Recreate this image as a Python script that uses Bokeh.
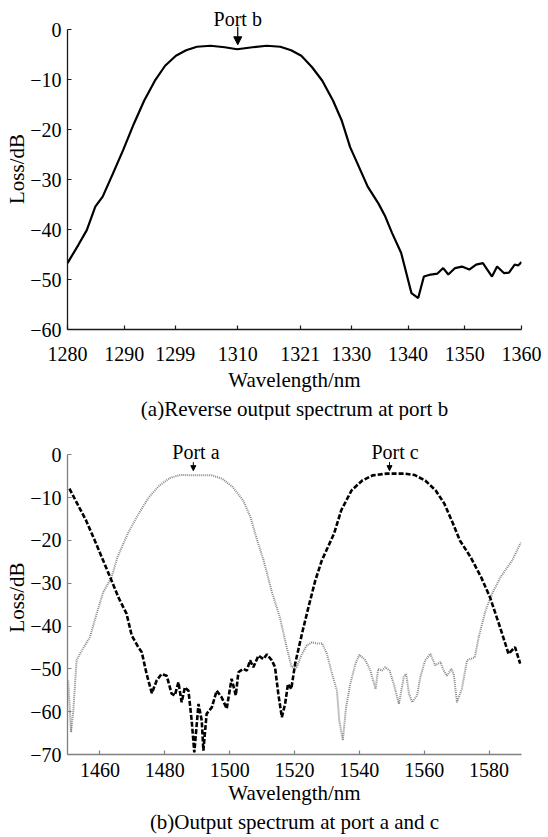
from bokeh.plotting import figure
from bokeh.models import FixedTicker, Range1d, Label, Arrow, NormalHead, Title
from bokeh.layouts import column
from bokeh.embed import file_html
from bokeh.resources import INLINE

SERIF = "Liberation Serif"

# ---------------- Panel (a): reverse output spectrum at port b ----------------
wl_a = [1280.0, 1281.9, 1283.4, 1284.9, 1286.2, 1288.0, 1289.8, 1291.7, 1293.5, 1295.4,
        1297.2, 1299.1, 1300.9, 1302.8, 1305.2, 1307.7, 1309.9, 1312.6, 1315.1, 1317.5,
        1319.4, 1321.2, 1323.1, 1324.9, 1326.8, 1328.3, 1329.8, 1331.1, 1332.9, 1334.8,
        1336.0, 1337.2, 1338.8, 1339.7, 1340.6, 1341.8, 1342.8, 1344.0, 1345.2, 1346.2,
        1347.1, 1348.3, 1349.5, 1350.8, 1352.0, 1353.2, 1354.8, 1355.7, 1356.9, 1357.8,
        1358.8, 1359.4, 1360.0]
loss_a = [-46.7, -43.1, -40.1, -35.4, -33.4, -28.8, -24.1, -18.8, -14.2, -10.2,
          -7.2, -5.2, -4.1, -3.4, -3.2, -3.5, -3.9, -3.5, -3.2, -3.4,
          -4.1, -5.2, -7.5, -10.2, -14.2, -18.1, -23.5, -26.8, -31.4, -34.8,
          -37.4, -40.7, -44.7, -48.7, -52.7, -53.7, -49.4, -49.0, -48.8, -47.7,
          -49.0, -47.7, -47.4, -48.0, -47.0, -46.7, -49.4, -47.4, -48.7, -48.6,
          -47.0, -47.2, -46.5]
xticks_a = [1280, 1290, 1299, 1310, 1321, 1330, 1340, 1350, 1360]
yticks_a = [0, -10, -20, -30, -40, -50, -60]

# ---------------- Panel (b): output spectrum at port a and c ----------------
wl_c = [1450.6, 1453.0, 1455.7, 1458.4, 1461.0, 1463.6, 1465.7, 1468.2, 1469.8, 1471.8,
        1472.9, 1474.4, 1476.0, 1477.5, 1479.0, 1480.6, 1482.1, 1483.1, 1484.2, 1485.2,
        1486.2, 1487.3, 1488.3, 1489.1, 1490.4, 1491.4, 1491.9, 1492.9, 1494.5, 1496.0,
        1497.5, 1499.1, 1500.6, 1501.9, 1502.7, 1504.2, 1505.3, 1506.3, 1507.3, 1508.9,
        1510.4, 1511.5, 1513.0, 1514.0, 1515.0, 1516.1, 1517.1, 1518.0, 1519.0, 1520.2,
        1522.3, 1524.3, 1526.4, 1528.4, 1532.2, 1534.4, 1537.6, 1540.9, 1544.1, 1548.4,
        1553.8, 1557.0, 1560.3, 1563.5, 1566.2, 1568.9, 1571.0, 1574.3, 1577.5, 1580.3,
        1583.4, 1586.0, 1588.0, 1589.6]
loss_c = [-7.9, -11.4, -15.3, -20.0, -24.7, -29.4, -33.3, -37.1, -42.2, -44.9,
          -46.1, -51.2, -55.7, -52.7, -51.2, -51.6, -55.8, -56.2, -53.1, -57.8,
          -54.3, -55.1, -62.1, -69.5, -58.2, -62.1, -69.1, -60.5, -59.0, -55.1,
          -56.6, -59.3, -52.3, -56.2, -50.8, -50.0, -50.4, -48.0, -49.6, -46.9,
          -47.7, -46.6, -48.0, -49.6, -55.8, -61.3, -58.2, -53.5, -54.7, -48.8,
          -41.8, -35.6, -29.4, -24.7, -18.4, -13.0, -8.3, -6.0, -4.8, -4.4,
          -4.4, -4.7, -6.0, -8.3, -11.4, -16.1, -20.0, -23.9, -28.5, -33.3,
          -40.3, -46.5, -44.9, -48.8]

wl_pa = [1450.2, 1451.1, 1451.8, 1452.8, 1453.8, 1456.9, 1459.0, 1461.0, 1463.6, 1465.4,
         1468.6, 1471.9, 1475.1, 1478.3, 1481.6, 1484.8, 1489.1, 1494.5, 1497.7, 1500.9,
         1504.2, 1506.4, 1508.5, 1510.5, 1513.0, 1515.5, 1517.6, 1519.1, 1520.7, 1522.3,
         1523.8, 1525.4, 1527.0, 1528.5, 1530.0, 1531.6, 1533.1, 1533.8, 1534.9, 1535.9,
         1537.2, 1538.8, 1540.0, 1541.9, 1543.4, 1545.0, 1545.8, 1547.0, 1548.0, 1549.3,
         1550.6, 1552.2, 1553.7, 1554.4, 1555.3, 1556.3, 1557.8, 1558.8, 1560.3, 1561.9,
         1563.4, 1565.0, 1566.0, 1567.0, 1568.4, 1569.1, 1570.1, 1571.6, 1573.2, 1574.2,
         1575.6, 1576.8, 1578.9, 1580.9, 1583.5, 1587.1, 1589.8]
loss_pa = [-52.7, -64.8, -59.7, -48.0, -46.5, -42.6, -37.1, -32.1, -28.6, -23.9,
           -18.4, -13.8, -9.9, -7.2, -5.4, -4.7, -4.8, -4.8, -5.6, -7.5,
           -10.7, -14.5, -20.0, -24.7, -32.0, -38.0, -45.0, -49.6, -49.6, -46.5,
           -44.5, -43.8, -44.1, -44.0, -46.5, -51.2, -55.1, -62.1, -66.7, -59.0,
           -53.5, -48.8, -46.7, -48.0, -50.4, -54.7, -50.0, -50.4, -49.6, -50.4,
           -53.5, -58.2, -51.9, -51.2, -55.8, -57.8, -56.2, -51.9, -48.0, -46.5,
           -49.2, -48.4, -50.4, -51.6, -50.0, -51.2, -57.8, -54.7, -48.0, -47.7,
           -47.3, -42.6, -36.4, -32.5, -28.6, -24.7, -20.5]
xticks_b = [1460, 1480, 1500, 1520, 1540, 1560, 1580]
yticks_b = [0, -10, -20, -30, -40, -50, -60, -70]

assert len(wl_a) == len(loss_a)
assert len(wl_c) == len(loss_c)
assert len(wl_pa) == len(loss_pa)


def minus(v):
    return str(v).replace("-", "\u2212")


def style_axes(p, xticks, yticks, xb, yb, axis_color, x_standoff, xlabel_standoff):
    p.grid.visible = False
    p.outline_line_color = None
    p.background_fill_color = "white"
    p.border_fill_color = "white"
    for ax in (p.xaxis[0], p.yaxis[0]):
        ax.axis_line_color = axis_color
        ax.axis_line_width = 1.3
        ax.major_tick_line_color = axis_color
        ax.major_tick_line_width = 1.2
        ax.major_tick_in = 4
        ax.major_tick_out = 0
        ax.minor_tick_line_color = None
        ax.major_label_text_font = SERIF
        ax.major_label_text_font_size = "20px"
        ax.major_label_text_color = "black"
        ax.axis_label_text_font = SERIF
        ax.axis_label_text_font_size = "21px"
        ax.axis_label_text_font_style = "normal"
        ax.axis_label_text_color = "black"
    xa = p.xaxis[0]
    xa.ticker = FixedTicker(ticks=xticks)
    xa.bounds = xb
    xa.major_label_standoff = x_standoff
    xa.axis_label = "Wavelength/nm"
    xa.axis_label_standoff = xlabel_standoff
    ya = p.yaxis[0]
    ya.ticker = FixedTicker(ticks=yticks)
    ya.major_label_overrides = {v: minus(v) for v in yticks}
    ya.bounds = yb
    ya.major_label_standoff = 6
    ya.axis_label = "Loss/dB"
    ya.axis_label_standoff = -2


def caption(text):
    return Title(text=text, align="center", text_font=SERIF, text_font_size="21px",
                 text_font_style="normal", text_color="black", standoff=0)


# ---- figure (a)
p1 = figure(width=548, height=420, output_backend="svg", toolbar_location=None,
            x_range=Range1d(1280, 1360), y_range=Range1d(-60, 4.26),
            min_border_left=67, min_border_right=27, min_border_top=8, min_border_bottom=91)
style_axes(p1, xticks_a, yticks_a, (1280, 1360), (-60, 0), "#1a1a1a", 17, 4)
p1.line(wl_a, loss_a, line_color="black", line_width=2.2)
p1.add_layout(Label(x=1310, y=2.2, text="Port b", text_align="center", text_baseline="middle",
                    text_font=SERIF, text_font_size="20px", text_color="black"))
p1.add_layout(Arrow(end=NormalHead(size=8, fill_color="black", line_color="black"),
                    x_start=1310, y_start=0.6, x_end=1310, y_end=-3.0,
                    line_color="black", line_width=1.2))
p1.add_layout(caption("(a)Reverse output spectrum at port b"), "below")

# ---- figure (b)
p2 = figure(width=548, height=417, output_backend="svg", toolbar_location=None,
            x_range=Range1d(1450, 1590), y_range=Range1d(-70, 3.34),
            min_border_left=67, min_border_right=27, min_border_top=20, min_border_bottom=83)
style_axes(p2, xticks_b, yticks_b, (1450, 1590), (-70, 0), "#808080", 8, 1)
p2.line(wl_pa, loss_pa, line_color="#8a8a8a", line_width=2.0, line_dash="1 1")
p2.line(wl_c, loss_c, line_color="black", line_width=2.6, line_dash="5 2")
for name, xt, xa_ in (("Port a", 1489.6, 1488.8), ("Port c", 1551.0, 1549.3)):
    p2.add_layout(Label(x=xt, y=0.6, text=name, text_align="center", text_baseline="middle",
                        text_font=SERIF, text_font_size="20px", text_color="black"))
    p2.add_layout(Arrow(end=NormalHead(size=5, fill_color="black", line_color="black"),
                        x_start=xa_, y_start=-1.7, x_end=xa_, y_end=-3.7,
                        line_color="black", line_width=1.0))
p2.add_layout(caption("(b)Output spectrum at port a and c"), "below")

layout = column(p1, p2, spacing=0)
open("out.html", "w").write(file_html(layout, INLINE))
